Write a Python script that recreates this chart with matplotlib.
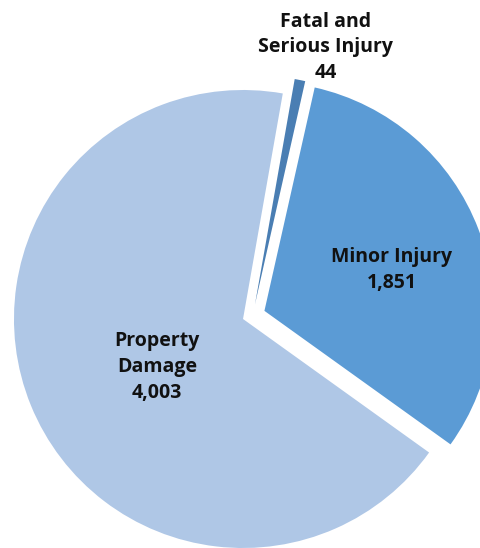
import matplotlib
matplotlib.use("Agg")
import matplotlib.pyplot as plt
import numpy as np

categories = ["Fatal and\nSerious Injury", "Minor Injury", "Property\nDamage"]
values = [44, 1851, 4003]
colors = ["#4A7EB3", "#5B9BD5", "#AFC7E6"]
explode = [0.08, 0.10, 0.0]

plt.rcParams['font.family'] = ['Open Sans', 'DejaVu Sans']

fig = plt.figure(figsize=(4.81, 5.48), dpi=100)
ax = fig.add_axes([0, 0, 1, 1])
wedges, _ = ax.pie(values, colors=colors, explode=explode, startangle=80,
                   counterclock=False, radius=1.0,
                   wedgeprops=dict(linewidth=0))
# the tiny slice sits a little to the right of its radial line in the original
wedges[0].set_center((0.052, 0.063))
ax.set_xlim(-1.061, 1.039)
ax.set_ylim(-1.0, 1.393)
ax.set_aspect('auto')
ax.axis('off')

# label positions: radius and angle offset from the wedge middle
label_r = [1.16, 0.585, 0.43]
label_da = [-5.9, -3.1, 7]
for w, cat, v, r, da, ex in zip(wedges, categories, values, label_r, label_da, explode):
    mid = np.deg2rad((w.theta1 + w.theta2) / 2)
    cx, cy = ex * np.cos(mid), ex * np.sin(mid)
    ang = mid + np.deg2rad(da)
    x = cx + r * np.cos(ang)
    y = cy + r * np.sin(ang)
    ax.text(x, y, f"{cat}\n{v:,}", ha='center', va='center', fontsize=14,
            fontweight='bold', linespacing=1.38, color='#111111')

fig.savefig("out.png", dpi=100)
